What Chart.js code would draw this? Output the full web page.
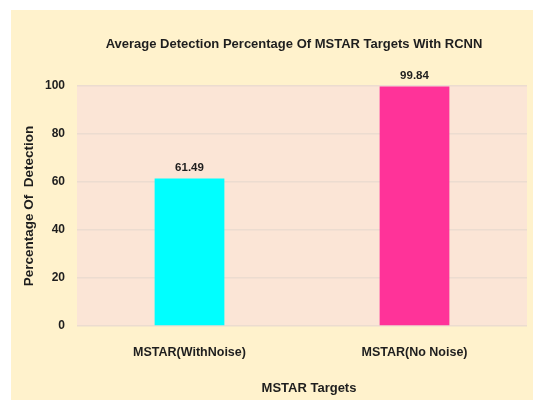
<!DOCTYPE html>
<html>
<head>
<meta charset="utf-8">
<script src="https://cdn.jsdelivr.net/npm/chart.js@4"></script>
<style>
	html, body { margin: 0; padding: 0; background: #ffffff; }
	#wrap { position: absolute; left: 11px; top: 10px; width: 522px; height: 390px; background: #fff2cc; }
</style>
</head>
<body>
<div id="wrap"><canvas id="chartBar"></canvas></div>
<script>
(function() {
	'use strict';
	var categories = ['MSTAR(WithNoise)', 'MSTAR(No Noise)'];
	var detection = [61.49, 99.84];
	var barColors = ['#00ffff', '#ff3399'];
	var yTicks = [0, 20, 40, 60, 80, 100];

	var FONT = "'Liberation Sans', sans-serif";
	var TEXT = '#1e1e1e';

	// plot background, titles and value labels
	var extras = {
		id: 'extras',
		beforeDraw: function(chart) {
			var a = chart.chartArea, c = chart.ctx;
			c.save();
			c.fillStyle = '#fbe5d6';
			c.fillRect(a.left, a.top, a.right - a.left, a.bottom - a.top);
			c.restore();
		},
		afterDatasetsDraw: function(chart) {
			var c = chart.ctx, a = chart.chartArea;
			var mid = (a.left + a.right) / 2;
			c.save();
			c.fillStyle = TEXT;
			c.textAlign = 'center';
			c.textBaseline = 'middle';
			c.font = 'bold 13px ' + FONT;
			c.fillText('Average Detection Percentage Of MSTAR Targets With RCNN', mid - 8, 34);
			c.fillText('MSTAR Targets', mid + 7, 378);
			c.font = 'bold 11.5px ' + FONT;
			chart.getDatasetMeta(0).data.forEach(function(bar, i) {
				c.fillText(detection[i].toFixed(2), bar.x, bar.y - 11);
			});
			c.restore();
		}
	};

	var ctx = document.getElementById('chartBar');
	new Chart(ctx, {
		type: 'bar',
		data: {
			labels: categories,
			datasets: [{
				data: detection,
				backgroundColor: barColors,
				barPercentage: 0.31,
				categoryPercentage: 1
			}]
		},
		options: {
			maintainAspectRatio: false,
			responsive: true,
			animation: false,
			layout: { padding: { top: 76, right: 6, left: 0, bottom: 0 } },
			plugins: {
				legend: { display: false },
				tooltip: { enabled: false }
			},
			scales: {
				x: {
					afterFit: function(s) { s.height = 74; },
					ticks: {
						color: TEXT,
						padding: 11,
						font: { family: FONT, size: 12.5, weight: 'bold' }
					},
					grid: { display: false },
					border: { display: false }
				},
				y: {
					min: 0,
					max: 100,
					afterFit: function(s) { s.width = 66; },
					afterBuildTicks: function(s) {
						s.ticks = yTicks.map(function(v) { return { value: v }; });
					},
					ticks: {
						color: TEXT,
						padding: 12,
						font: { family: FONT, size: 12, weight: 'bold' }
					},
					title: {
						display: true,
						text: 'Percentage Of  Detection',
						color: TEXT,
						padding: { top: 10, bottom: 0 },
						font: { family: FONT, size: 13.5, weight: 'bold' }
					},
					grid: {
						color: '#ecdcd0',
						lineWidth: 1.5,
						drawTicks: false
					},
					border: { display: false }
				}
			}
		},
		plugins: [extras]
	});
})();
</script>
</body>
</html>
